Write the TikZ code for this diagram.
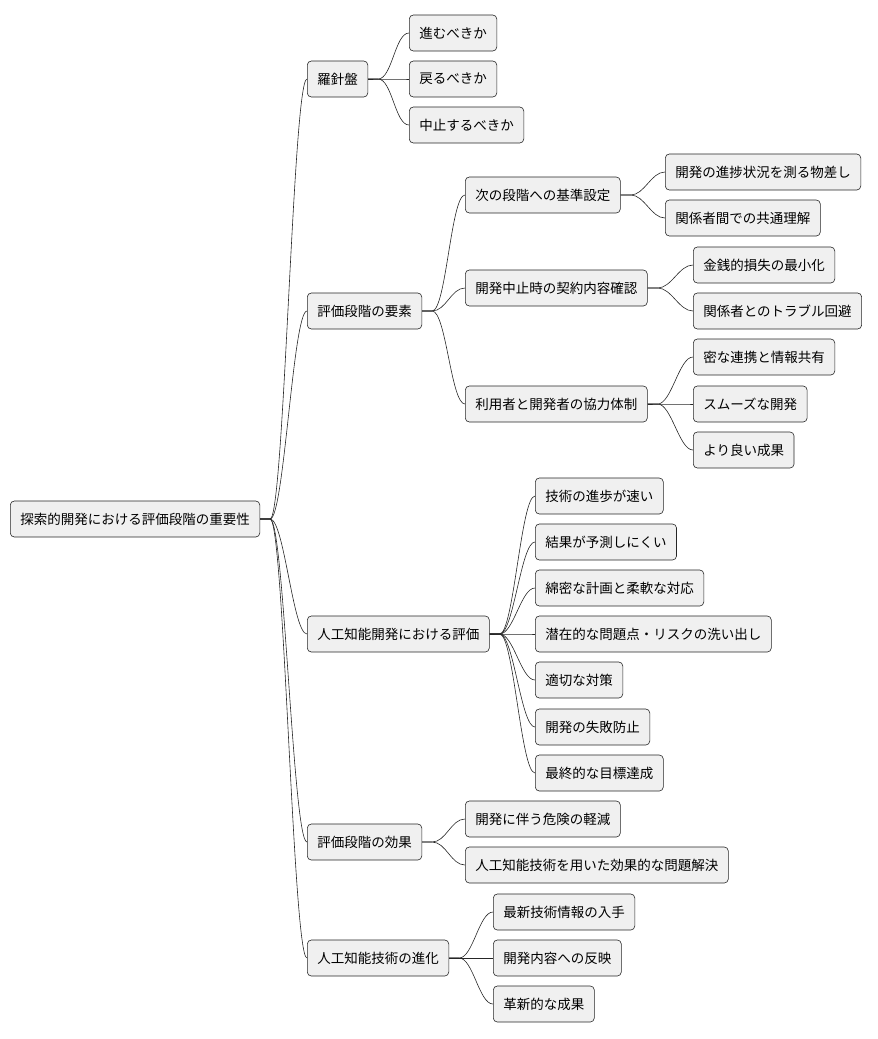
\documentclass[tikz,border=0pt]{standalone}
\usepackage{fontspec}
\setmainfont{Noto Sans CJK JP}
\begin{document}
\begin{tikzpicture}[x=1pt,y=-1pt,
  box/.style={draw=black!85,fill=black!6,rounded corners=4pt,line width=0.6pt,anchor=west,minimum height=36pt,inner xsep=10pt,font=\fontsize{13.5}{14}\selectfont},
  con/.style={draw=black!85,line width=0.6pt}]
\useasboundingbox (0,0) rectangle (878,1039);
\node[box] (r) at (10,519) {探索的開発における評価段階の重要性};
\node[box] (a) at (307,79) {羅針盤};
\node[box] (b) at (307,311) {評価段階の要素};
\node[box] (c) at (307,634) {人工知能開発における評価};
\node[box] (d) at (307,842) {評価段階の効果};
\node[box] (e) at (307,958) {人工知能技術の進化};
\node[box] (a1) at (409,33) {進むべきか};
\node[box] (a2) at (409,79) {戻るべきか};
\node[box] (a3) at (409,125) {中止するべきか};
\node[box] (b1) at (465,195) {次の段階への基準設定};
\node[box] (b2) at (465,288) {開発中止時の契約内容確認};
\node[box] (b3) at (465,404) {利用者と開発者の協力体制};
\node[box] (b11) at (665,172) {開発の進捗状況を測る物差し};
\node[box] (b12) at (665,218) {関係者間での共通理解};
\node[box] (b21) at (693,265) {金銭的損失の最小化};
\node[box] (b22) at (693,311) {関係者とのトラブル回避};
\node[box] (b31) at (693,357) {密な連携と情報共有};
\node[box] (b32) at (693,404) {スムーズな開発};
\node[box] (b33) at (693,450) {より良い成果};
\node[box] (c1) at (535,496) {技術の進歩が速い};
\node[box] (c2) at (535,542) {結果が予測しにくい};
\node[box] (c3) at (535,588) {綿密な計画と柔軟な対応};
\node[box] (c4) at (535,634) {潜在的な問題点・リスクの洗い出し};
\node[box] (c5) at (535,680) {適切な対策};
\node[box] (c6) at (535,727) {開発の失敗防止};
\node[box] (c7) at (535,773) {最終的な目標達成};
\node[box] (d1) at (465,819) {開発に伴う危険の軽減};
\node[box] (d2) at (465,865) {人工知能技術を用いた効果的な問題解決};
\node[box] (e1) at (493,912) {最新技術情報の入手};
\node[box] (e2) at (493,958) {開発内容への反映};
\node[box] (e3) at (493,1004) {革新的な成果};
\foreach \p/\cs in {r/{a,b,c,d,e},a/{a1,a2,a3},b/{b1,b2,b3},b1/{b11,b12},b2/{b21,b22},b3/{b31,b32,b33},c/{c1,c2,c3,c4,c5,c6,c7},d/{d1,d2},e/{e1,e2,e3}}{
  \foreach \ch in \cs {
    \draw[con] (\p.east) -- ++(10,0) .. controls +(14,0) and +(-14,0) .. (\ch.west);
  }
}
\end{tikzpicture}
\end{document}
